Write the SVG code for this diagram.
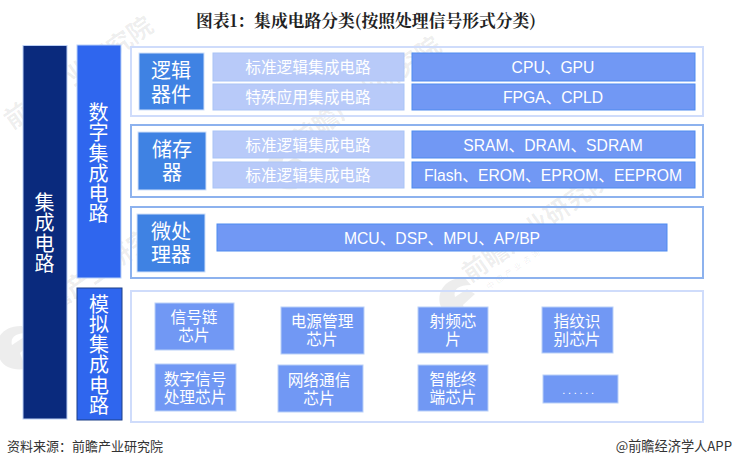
<svg xmlns="http://www.w3.org/2000/svg" width="732" height="466" viewBox="0 0 732 466">
<defs>
<g id="wm-logo"><path d="M-14 10C-20-6-8-20 10-19L16-12C4-12-2-8 0 0L12-8L20-3L8 8L14 24C0 26-10 22-14 10Z" fill="#000" fill-opacity=".07"/></g>
</defs>
<style>
text{font-family:"Liberation Sans","Noto Sans CJK SC",sans-serif;text-anchor:middle;fill:#fff}
.lat{font-size:15.7px}
.vert{writing-mode:vertical-rl;text-anchor:start;font-size:20px;letter-spacing:.25px}
.panel{fill:none;stroke:#cfdcfb;stroke-width:2}
.panelb{fill:none;stroke:#8db2ee;stroke-width:2}
.head{fill:#3f82e3;stroke:#cfe0fa;stroke-width:1}
.light{fill:#b8caf9;stroke:#a9c4f6;stroke-width:1}
.mid{fill:#7198f4;stroke:#4f8bef;stroke-width:1}
.chip{fill:#7198f4;stroke:#b9d0f8;stroke-width:1}
.t20{font-size:20px}.t15{font-size:15.7px}
.wm{font-size:25px;font-weight:700;fill:#000;fill-opacity:.07;text-anchor:start}
.wms{font-size:8px;fill:#000;fill-opacity:.08;text-anchor:start;letter-spacing:3px}
</style>
<rect width="732" height="466" fill="#fff"/>
<text x="366" y="27" style="font-family:'Noto Serif CJK SC','Noto Sans CJK SC',serif;font-size:16.8px;font-weight:700;fill:#222">图表1：集成电路分类(按照处理信号形式分类)</text>
<g id="watermarks">
<use href="#wm-logo" x="455" y="297"/>
<text class="wm" transform="translate(470 283) rotate(-35)">前瞻产业研究院</text>
<text class="wms" transform="translate(489 290) rotate(-35)">中国产业咨询领导者</text>
<use href="#wm-logo" x="283" y="165"/>
<text class="wm" transform="translate(300 150) rotate(-35)">前瞻产业研究院</text>
<use href="#wm-logo" x="12" y="345"/>
<text class="wm" transform="translate(32 328) rotate(-35)">前瞻产业研究院</text>
<text class="wm" transform="translate(12 130) rotate(-35)">前瞻产业研究院</text>
</g>
<g id="n-root"><rect x="23" y="45.500" width="44" height="373.500" fill="#0a2a7d" stroke="#bcd0f5"/>
<text class="vert" x="43" y="192.500">集成电路</text></g>
<g id="n-digital"><rect x="77" y="45" width="44" height="233" fill="#2f66ee" stroke="#b9d0f8"/>
<text class="vert" x="97" y="102.500">数字集成电路</text></g>
<g id="n-analog"><rect x="77" y="288" width="45" height="132" fill="#2f66ee" stroke="#1c3f86"/>
<text class="vert" x="97.500" y="294">模拟集成电路</text></g>
<g id="n-panel1"><rect class="panel" x="131" y="47" width="572" height="69"/></g>
<g id="n-panel2"><rect class="panelb" x="131" y="125" width="572" height="72"/></g>
<g id="n-panel3"><rect class="panelb" x="131" y="207" width="572" height="71"/></g>
<g id="n-panel4"><rect class="panel" x="131" y="291" width="572" height="131"/></g>
<g id="n-logic"><rect class="head" x="139" y="53" width="65" height="57"/><text class="t20" x="171" y="78"><tspan x="171">逻辑</tspan><tspan x="171" dy="24">器件</tspan></text></g>
<g id="n-std1"><rect class="light" x="213" y="53" width="191" height="28"/><text class="t15" x="308" y="73">标准逻辑集成电路</text></g>
<g id="n-asic"><rect class="light" x="213" y="84" width="191" height="26"/><text class="t15" x="308" y="102.500">特殊应用集成电路</text></g>
<g id="n-cpu"><rect class="mid" x="412" y="53" width="283" height="28"/><text class="lat" x="553" y="72.500">CPU、GPU</text></g>
<g id="n-fpga"><rect class="mid" x="412" y="84" width="283" height="26"/><text class="lat" x="553" y="103">FPGA、CPLD</text></g>
<g id="n-storage"><rect class="head" x="138" y="132" width="68" height="58"/><text class="t20" x="172" y="157"><tspan x="172">储存</tspan><tspan x="172" dy="23">器</tspan></text></g>
<g id="n-std2"><rect class="light" x="213" y="131" width="191" height="27"/><text class="t15" x="308" y="150.500">标准逻辑集成电路</text></g>
<g id="n-std3"><rect class="light" x="213" y="162" width="191" height="26"/><text class="t15" x="308" y="181">标准逻辑集成电路</text></g>
<g id="n-sram"><rect class="mid" x="412" y="131" width="283" height="27"/><text class="lat" x="553" y="150.500">SRAM、DRAM、SDRAM</text></g>
<g id="n-flash"><rect class="mid" x="412" y="162" width="283" height="26"/><text class="lat" x="553" y="181">Flash、EROM、EPROM、EEPROM</text></g>
<g id="n-micro"><rect class="head" x="137" y="214" width="68" height="58"/><text class="t20" x="171" y="239"><tspan x="171">微处</tspan><tspan x="171" dy="23">理器</tspan></text></g>
<g id="n-mcu"><rect class="mid" x="217" y="224" width="450" height="27"/><text class="lat" x="442" y="243.500">MCU、DSP、MPU、AP/BP</text></g>
<g id="n-a1"><rect class="chip" x="155" y="303" width="79" height="47"/><text class="t15" x="194" y="323"><tspan x="194">信号链</tspan><tspan x="194" dy="18.100">芯片</tspan></text></g>
<g id="n-a2"><rect class="chip" x="281" y="307" width="83" height="47"/><text class="t15" x="322" y="327"><tspan x="322">电源管理</tspan><tspan x="322" dy="18.100">芯片</tspan></text></g>
<g id="n-a3"><rect class="chip" x="418" y="307" width="70" height="46"/><text class="t15" x="453" y="327"><tspan x="453">射频芯</tspan><tspan x="453" dy="18.100">片</tspan></text></g>
<g id="n-a4"><rect class="chip" x="542" y="307" width="71" height="46"/><text class="t15" x="577" y="327"><tspan x="577">指纹识</tspan><tspan x="577" dy="18.100">别芯片</tspan></text></g>
<g id="n-a5"><rect class="chip" x="155" y="364" width="81" height="47"/><text class="t15" x="195" y="385"><tspan x="195">数字信号</tspan><tspan x="195" dy="18.100">处理芯片</tspan></text></g>
<g id="n-a6"><rect class="chip" x="278" y="365" width="85" height="47"/><text class="t15" x="319" y="386"><tspan x="319">网络通信</tspan><tspan x="319" dy="18.100">芯片</tspan></text></g>
<g id="n-a7"><rect class="chip" x="418" y="365" width="70" height="46"/><text class="t15" x="453" y="385"><tspan x="453">智能终</tspan><tspan x="453" dy="18.100">端芯片</tspan></text></g>
<g id="n-a8"><rect class="chip" x="543" y="375" width="75" height="28"/><text x="579.500" y="394" style="font-size:11px;letter-spacing:2.700px">......</text></g>
<g id="connectors"></g>
<text x="7" y="451" style="font-family:'Noto Sans CJK SC',sans-serif;font-size:13px;text-anchor:start;fill:#333">资料来源：前瞻产业研究院</text>
<text x="732" y="451" style="font-family:'Noto Sans CJK SC',sans-serif;font-size:13.200px;text-anchor:end;fill:#333">@前瞻经济学人APP</text>
</svg>
